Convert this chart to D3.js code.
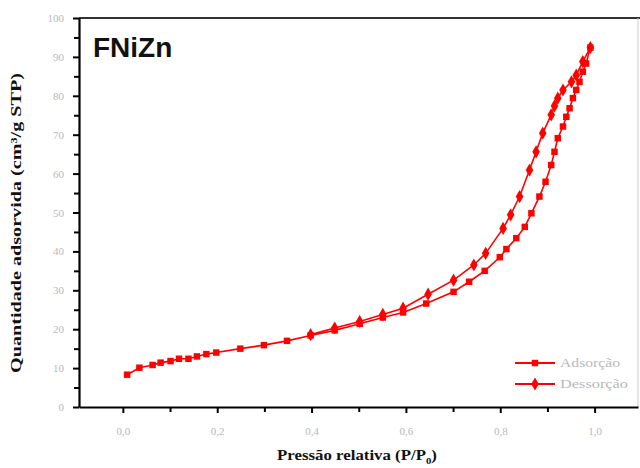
<!DOCTYPE html>
<html>
<head>
<meta charset="utf-8">
<script src="https://cdn.jsdelivr.net/npm/d3@7"></script>
<style>
  body { margin: 0; background: #fff; }
  .tick text { font-family: "Liberation Serif", "DejaVu Serif", serif; fill: #b8b8b8; font-size: 11px; }
  .domain { stroke: #000; stroke-width: 2.2px; }
  .tick line { stroke: #000; stroke-width: 2px; }
  .title { font-family: "Liberation Serif", "DejaVu Serif", serif; font-weight: bold; fill: #111; }
</style>
</head>
<body>
<div id="chart"></div>
<script>
// adsorption branch (P/P0, volume)
var adsP = [0.009, 0.035, 0.063, 0.080, 0.101, 0.119, 0.139, 0.157, 0.177, 0.198,
            0.249, 0.299, 0.348, 0.398, 0.449, 0.502, 0.551, 0.594, 0.643, 0.701,
            0.734, 0.767, 0.799, 0.813, 0.834, 0.852, 0.866, 0.883, 0.896, 0.908,
            0.915, 0.922, 0.933, 0.940, 0.947, 0.954, 0.961, 0.968, 0.975, 0.982, 0.991];
var adsV = [8.3, 10.1, 10.8, 11.4, 11.8, 12.4, 12.4, 13.0, 13.6, 14.0,
            15.0, 15.9, 17.0, 18.4, 19.7, 21.4, 23.0, 24.3, 26.6, 29.6,
            32.2, 35.0, 38.5, 40.6, 43.4, 46.3, 49.8, 54.1, 57.9, 62.2,
            65.6, 69.1, 72.1, 74.6, 76.8, 79.4, 81.5, 83.6, 86.2, 88.3, 92.4];
// desorption branch
var desP = [0.991, 0.975, 0.961, 0.951, 0.933, 0.922, 0.915, 0.908, 0.890, 0.876,
            0.862, 0.841, 0.822, 0.806, 0.769, 0.744, 0.701, 0.647, 0.594, 0.551,
            0.502, 0.449, 0.398];
var desV = [92.4, 88.8, 85.3, 83.6, 81.5, 79.4, 77.4, 75.1, 70.4, 65.6,
            60.9, 54.1, 49.4, 45.9, 39.5, 36.5, 32.6, 29.0, 25.4, 23.8,
            22.0, 20.3, 18.6];

var xTicks = [0, 0.2, 0.4, 0.6, 0.8, 1.0];
var xMinor = [0.1, 0.3, 0.5, 0.7, 0.9];
var yTicks = [0, 10, 20, 30, 40, 50, 60, 70, 80, 90, 100];
var yMinor = [5, 15, 25, 35, 45, 55, 65, 75, 85, 95];

var sampleName = "FNiZn";
var seriesNames = ["Adsorção", "Dessorção"];

var width = 640, height = 468;
var red = "#ff0000";

var svg = d3.select("#chart").append("svg")
    .attr("width", width)
    .attr("height", height);

var x = d3.scaleLinear().domain([-0.093, 1.092]).range([79, 638]);
var y = d3.scaleLinear().domain([0, 100]).range([407, 18]);

// frame top / right
svg.append("line").attr("x1", 79).attr("x2", 640).attr("y1", 18).attr("y2", 18)
    .attr("stroke", "#333").attr("stroke-width", 2);
svg.append("line").attr("x1", 638).attr("x2", 638).attr("y1", 18).attr("y2", 407)
    .attr("stroke", "#ccc").attr("stroke-width", 1);

var fmt = function(d) { return d3.format(".1f")(d).replace(".", ","); };

// x axis
svg.append("g").attr("transform", "translate(0,407)")
    .call(d3.axisBottom(x).tickValues(xTicks).tickFormat(fmt).tickSize(6).tickSizeOuter(0).tickPadding(14));
svg.append("g").attr("transform", "translate(0,407)")
    .call(d3.axisBottom(x).tickValues(xMinor).tickFormat("").tickSize(5).tickSizeOuter(0))
    .select(".domain").remove();

// y axis
svg.append("g").attr("transform", "translate(79,0)")
    .call(d3.axisLeft(y).tickValues(yTicks).tickFormat(d3.format("d")).tickSize(6).tickSizeOuter(0).tickPadding(9));
svg.append("g").attr("transform", "translate(79,0)")
    .call(d3.axisLeft(y).tickValues(yMinor).tickFormat("").tickSize(5).tickSizeOuter(0))
    .select(".domain").remove();

// axis titles
var xt = svg.append("text")
    .attr("class", "title")
    .attr("x", 357).attr("y", 460)
    .attr("text-anchor", "middle")
    .style("font-size", "14px")
    .attr("textLength", 160).attr("lengthAdjust", "spacingAndGlyphs");
xt.append("tspan").text("Pressão relativa (P/P");
xt.append("tspan").style("font-size", "9px").attr("dy", 4).text("0");
xt.append("tspan").attr("dy", -4).text(")");

svg.append("text")
    .attr("class", "title")
    .attr("transform", "translate(21,223) rotate(-90)")
    .attr("text-anchor", "middle")
    .style("font-size", "14px")
    .attr("textLength", 300).attr("lengthAdjust", "spacingAndGlyphs")
    .text("Quantidade adsorvida (cm³/g STP)");

// sample label
svg.append("text")
    .attr("x", 93).attr("y", 57)
    .attr("font-family", "Liberation Sans, Arial, sans-serif")
    .attr("font-weight", "bold")
    .attr("font-size", 28)
    .attr("fill", "#111")
    .text(sampleName);

var ads = adsP.map(function(p, i) { return [p, adsV[i]]; });
var des = desP.map(function(p, i) { return [p, desV[i]]; });

var line = d3.line().x(function(d) { return x(d[0]); }).y(function(d) { return y(d[1]); });

svg.append("path").datum(ads).attr("d", line)
    .attr("fill", "none").attr("stroke", red).attr("stroke-width", 1.6);
svg.append("path").datum(des).attr("d", line)
    .attr("fill", "none").attr("stroke", red).attr("stroke-width", 1.6);

var sq = d3.symbol().type(d3.symbolSquare).size(42);
var dm = d3.symbol().type(d3.symbolDiamond).size(50);

svg.append("g").selectAll("path")
    .data(ads).enter().append("path")
    .attr("d", sq)
    .attr("fill", red)
    .attr("transform", function(d) { return "translate(" + x(d[0]) + "," + y(d[1]) + ")"; });

svg.append("g").selectAll("path")
    .data(des).enter().append("path")
    .attr("d", dm)
    .attr("fill", red)
    .attr("transform", function(d) { return "translate(" + x(d[0]) + "," + y(d[1]) + ")"; });

// legend
var legend = svg.append("g");
var symbols = [sq, dm];
seriesNames.forEach(function(name, i) {
    var ly = 363 + i * 21;
    legend.append("line").attr("x1", 515).attr("x2", 555).attr("y1", ly).attr("y2", ly)
        .attr("stroke", red).attr("stroke-width", 2);
    legend.append("path").attr("d", symbols[i]).attr("fill", red)
        .attr("transform", "translate(535," + ly + ")");
    legend.append("text").attr("x", 560).attr("y", ly + 4)
        .attr("font-family", "Liberation Serif, serif")
        .attr("font-size", 12)
        .attr("fill", "#b8b8b8")
        .attr("textLength", name.length > 8 ? 68 : 60).attr("lengthAdjust", "spacingAndGlyphs")
        .text(name);
});
</script>
</body>
</html>
